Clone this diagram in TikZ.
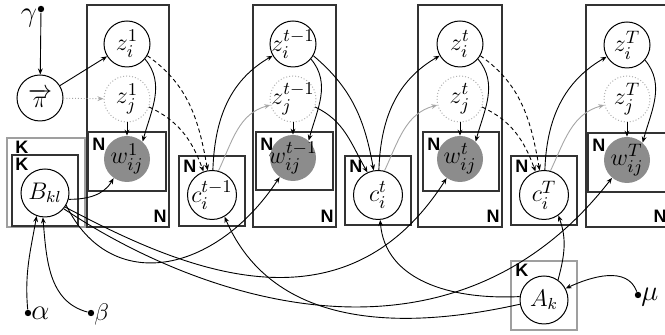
\documentclass[tikz,border=0pt]{standalone}
\usepackage{amsmath}
\usepackage{fontspec}
\newfontfamily\lblfont{Liberation Sans}
\newcommand{\zw}[1]{\makebox[0pt]{#1}}
\usetikzlibrary{arrows.meta}
\begin{document}
\begin{tikzpicture}[x=0.5pt,y=-0.5pt,
  every node/.style={inner sep=0pt},
  lat/.style={circle,draw,line width=0.5pt,minimum size=23pt,font=\fontsize{13}{15}\selectfont},
  latj/.style={lat,draw=gray!60,densely dotted},
  obs/.style={circle,fill=gray!90,minimum size=23pt,font=\fontsize{13}{15}\selectfont},
  cn/.style={lat,minimum size=24.5pt},
  plate/.style={draw=black!80,line width=0.7pt},
  plateg/.style={draw=gray!75,line width=0.75pt},
  plbl/.style={font=\lblfont\bfseries\fontsize{9}{10}\selectfont},
  arr/.style={-{Stealth[length=3pt,width=2.4pt]},line width=0.45pt},
  darr/.style={arr,dash pattern=on 2pt off 1.5pt},
  garr/.style={arr,draw=gray!70},
  hdot/.style={circle,fill,minimum size=3.2pt}
]
\useasboundingbox (0,0) rectangle (665,335);
\clip (0,0) rectangle (665,335);

% ---- B plates
\draw[plateg] (7,138) rectangle (85,227);
\draw[plate] (12,155) rectangle (78,226);
\node[plbl,anchor=north west] (kB1) at (15,141) {K};
\node[plbl,anchor=north west] (kB2) at (15,158) {K};
\node[lat,font=\large,minimum size=24pt] (B) at (45,193) {\zw{$B_{kl}$}};

% ---- slice 1
\draw[plate] (87,5) rectangle (169,227);
\draw[plate] (88,132) rectangle (166,191);
\node[plbl,anchor=south east] (n1o) at (167,223) {N};
\node[plbl,anchor=north west] (n1i) at (92,138) {N};
\node[lat] (zi1) at (127,44) {\zw{$z_i^1$}};
\node[latj] (zj1) at (127,99) {\zw{$z_j^1$}};
\node[obs] (w1) at (127,159) {\zw{$w_{ij}^1$}};

% ---- c^{t-1}
\draw[plate] (179,156) rectangle (245,226);
\node[plbl,anchor=north west] (nc1) at (183,160) {N};
\node[cn] (c1) at (212,195) {\zw{$c_i^{t-1}$}};

% ---- slice 2
\draw[plate] (253,5) rectangle (336,227);
\draw[plate] (256,132) rectangle (333,190);
\node[plbl,anchor=south east] (n2o) at (334,223) {N};
\node[plbl,anchor=north west] (n2i) at (260,138) {N};
\node[lat] (zi2) at (293,44) {\zw{$z_i^{t-1}$}};
\node[latj] (zj2) at (293,99) {\zw{$z_j^{t-1}$}};
\node[obs] (w2) at (293,158) {\zw{$w_{ij}^{t-1}$}};

% ---- c^t
\draw[plate] (345,156) rectangle (411,225);
\node[plbl,anchor=north west] (nc2) at (349,160) {N};
\node[cn] (c2) at (378,195) {\zw{$c_i^t$}};

% ---- slice 3
\draw[plate] (418,5) rectangle (502,227);
\draw[plate] (423,132) rectangle (499,191);
\node[plbl,anchor=south east] (n3o) at (500,223) {N};
\node[plbl,anchor=north west] (n3i) at (427,138) {N};
\node[lat] (zi3) at (460,44) {\zw{$z_i^t$}};
\node[latj] (zj3) at (460,99) {\zw{$z_j^t$}};
\node[obs] (w3) at (460,159) {\zw{$w_{ij}^t$}};

% ---- c^T
\draw[plate] (511,156) rectangle (577,225);
\node[plbl,anchor=north west] (nc3) at (515,160) {N};
\node[cn] (c3) at (544,195) {\zw{$c_i^T$}};

% ---- slice 4
\draw[plate] (586,5) rectangle (669,227);
\draw[plate] (588,133) rectangle (667,192);
\node[plbl,anchor=south east] (n4o) at (667,223) {N};
\node[plbl,anchor=north west] (n4i) at (592,139) {N};
\node[lat] (zi4) at (627,45) {\zw{$z_i^T$}};
\node[latj] (zj4) at (627,99) {\zw{$z_j^T$}};
\node[obs] (w4) at (627,160) {\zw{$w_{ij}^T$}};

% ---- A
\draw[plateg] (511,261) rectangle (577,330);
\node[plbl,anchor=north west] (kA) at (515,264) {K};
\node[lat,font=\large,minimum size=24pt] (A) at (544,300) {\zw{$A_k$}};

% ---- hyperparameters
\node[hdot] (gd) at (41,9) {};
\node[font=\Large] (gam) at (29,18) {$\gamma$};
\node[lat] (pi) at (40,98) {\zw{$\overrightarrow{\pi}$}};
\node[hdot] (md) at (638,295) {};
\node[font=\Large,anchor=west] (mu) at (641,297) {$\mu$};
\node[hdot] (ad) at (28,313) {};
\node[font=\Large,anchor=west] (al) at (31,313) {$\alpha$};
\node[hdot] (bd) at (91,313) {};
\node[font=\large,anchor=west] (be) at (94,315) {$\beta$};

% ---- edges
\draw[arr] (gd) -- (pi);
\draw[arr] (pi) -- (zi1);
\draw[arr,draw=gray!70,densely dotted] (pi) -- (zj1);

% slice 1
\draw[arr] (zi1.-40) to[out=-50,in=75] (w1.48);
\draw[arr] (zj1) -- (w1);
\draw[darr] (zi1.-30) to[out=-35,in=100] (c1.100);
\draw[darr] (zj1.-20) to[out=-25,in=110] (c1.110);
% c^{t-1}
\draw[arr] (c1.88) to[out=88,in=210] (zi2.210);
\draw[garr] (c1.75) to[out=65,in=195] (zj2.195);
% slice 2
\draw[arr] (zi2.-40) to[out=-50,in=75] (w2.48);
\draw[arr] (zj2) -- (w2);
\draw[arr] (zi2.-30) to[out=-40,in=100] (c2.100);
\draw[arr] (zj2.-20) to[out=-25,in=120] (c2.115);
% c^t
\draw[arr] (c2.88) to[out=88,in=210] (zi3.210);
\draw[garr] (c2.75) to[out=65,in=195] (zj3.195);
% slice 3
\draw[arr] (zi3.-40) to[out=-50,in=75] (w3.48);
\draw[arr] (zj3) -- (w3);
\draw[darr] (zi3.-30) to[out=-35,in=100] (c3.100);
\draw[darr] (zj3.-20) to[out=-25,in=110] (c3.110);
% c^T
\draw[arr] (c3.88) to[out=88,in=210] (zi4.210);
\draw[garr] (c3.75) to[out=65,in=195] (zj4.195);
% slice 4
\draw[arr] (zi4.-40) to[out=-50,in=75] (w4.48);
\draw[arr] (zj4) -- (w4);

% B to w
\draw[arr] (B.-15) to[out=0,in=-120] (w1.235);
\draw[arr] (B.-30) .. controls (110,295) and (215,275) .. (w2.235);
\draw[arr] (B.-35) .. controls (170,262) and (340,345) .. (w3.235);
\draw[arr] (B.-40) .. controls (200,300) and (450,386) .. (w4.230);

% A to c
\draw[arr] (A.190) .. controls (440,322) and (280,345) .. (c1.-60);
\draw[arr] (A.172) .. controls (450,300) and (385,280) .. (c2.-85);
\draw[arr] (A.55) to[out=75,in=-70] (c3.-55);

% hyper edges
\draw[arr] (md) to[out=110,in=25] (A.28);
\draw[arr] (ad) to[out=95,in=-100] (B.250);
\draw[arr] (bd) to[out=165,in=-85] (B.265);
\end{tikzpicture}
\end{document}
